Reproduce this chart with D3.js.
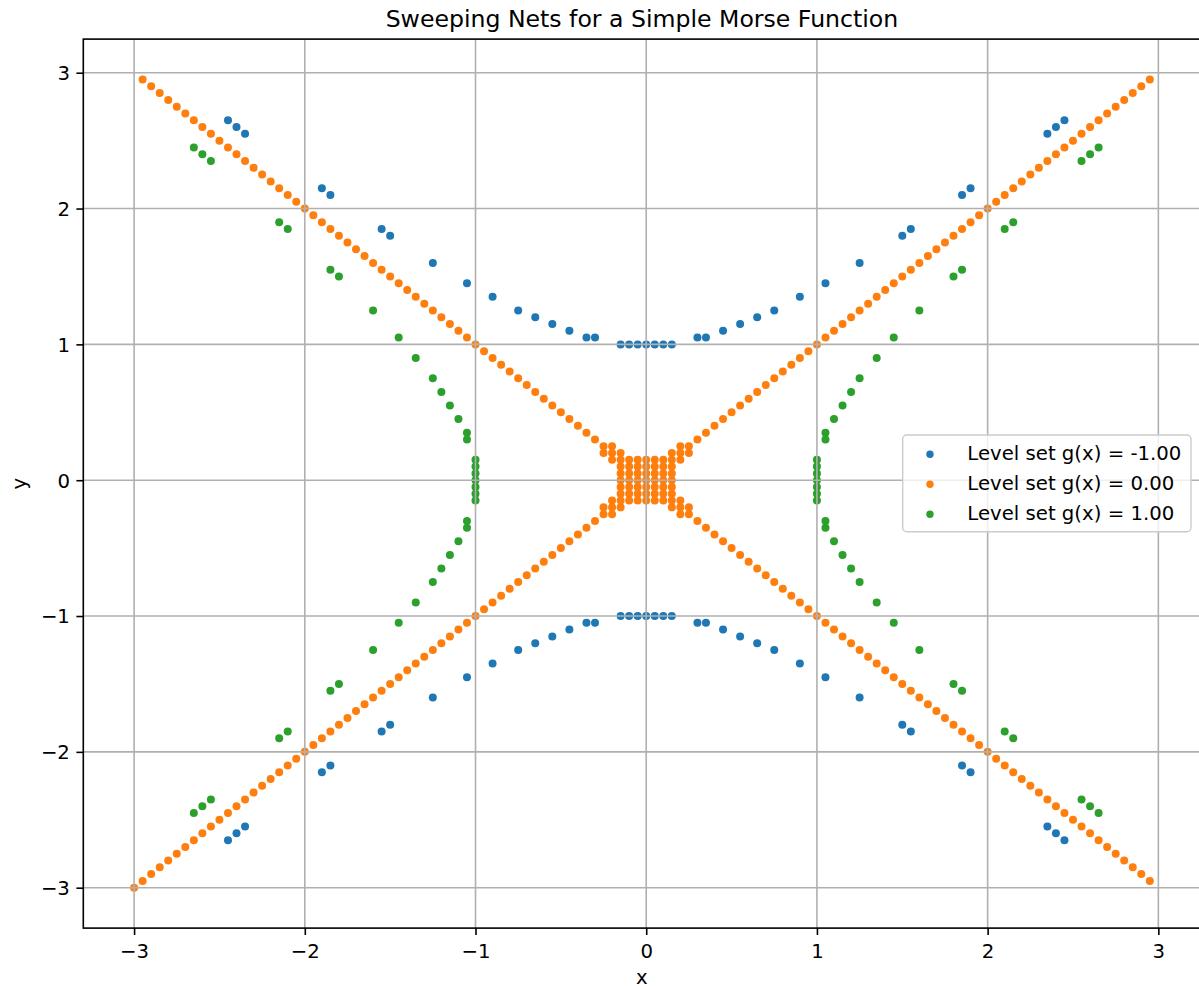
<!DOCTYPE html>
<html>
<head>
<meta charset="utf-8">
<script src="https://cdn.jsdelivr.net/npm/d3@7"></script>
<style>
  html, body { margin: 0; padding: 0; background: #ffffff; }
  svg { display: block; font-family: "DejaVu Sans", sans-serif; }
</style>
</head>
<body>
<svg id="chart" width="1199" height="989"></svg>
<script>
// ---------------- DATA ----------------
const chartTitle = "Sweeping Nets for a Simple Morse Function";
const xLabel = "x";
const yLabel = "y";
const xTicks = [-3, -2, -1, 0, 1, 2, 3];
const yTicks = [-3, -2, -1, 0, 1, 2, 3];
const seriesNames = ["Level set g(x) = -1.00", "Level set g(x) = 0.00", "Level set g(x) = 1.00"];
const seriesColors = ["#1f77b4", "#ff7f0e", "#2ca02c"];

// g(x) = -1 (blue)
const levelMinus1 = [
  [-2.45,2.65],[-2.4,2.6],[-2.35,2.55],[-1.9,2.15],[-1.85,2.1],[-1.55,1.85],[-1.5,1.8],[-1.25,1.6],
  [-1.05,1.45],[-0.9,1.35],[-0.75,1.25],[-0.65,1.2],[-0.55,1.15],[-0.45,1.1],[-0.35,1.05],[-0.3,1.05],
  [-0.15,1],[-0.1,1],[-0.05,1],[0,1],[0.05,1],[0.1,1],[0.15,1],[0.3,1.05],[0.35,1.05],[0.45,1.1],
  [0.55,1.15],[0.65,1.2],[0.75,1.25],[0.9,1.35],[1.05,1.45],[1.25,1.6],[1.5,1.8],[1.55,1.85],
  [1.85,2.1],[1.9,2.15],[2.35,2.55],[2.4,2.6],[2.45,2.65],
  [-2.45,-2.65],[-2.4,-2.6],[-2.35,-2.55],[-1.9,-2.15],[-1.85,-2.1],[-1.55,-1.85],[-1.5,-1.8],[-1.25,-1.6],
  [-1.05,-1.45],[-0.9,-1.35],[-0.75,-1.25],[-0.65,-1.2],[-0.55,-1.15],[-0.45,-1.1],[-0.35,-1.05],[-0.3,-1.05],
  [-0.15,-1],[-0.1,-1],[-0.05,-1],[0,-1],[0.05,-1],[0.1,-1],[0.15,-1],[0.3,-1.05],[0.35,-1.05],[0.45,-1.1],
  [0.55,-1.15],[0.65,-1.2],[0.75,-1.25],[0.9,-1.35],[1.05,-1.45],[1.25,-1.6],[1.5,-1.8],[1.55,-1.85],
  [1.85,-2.1],[1.9,-2.15],[2.35,-2.55],[2.4,-2.6],[2.45,-2.65]
];

// g(x) = 0 (orange)
const levelZero = [
  // y = x
  [-3,-3],[-2.95,-2.95],[-2.9,-2.9],[-2.85,-2.85],[-2.8,-2.8],[-2.75,-2.75],[-2.7,-2.7],[-2.65,-2.65],
  [-2.6,-2.6],[-2.55,-2.55],[-2.5,-2.5],[-2.45,-2.45],[-2.4,-2.4],[-2.35,-2.35],[-2.3,-2.3],[-2.25,-2.25],
  [-2.2,-2.2],[-2.15,-2.15],[-2.1,-2.1],[-2.05,-2.05],[-2,-2],[-1.95,-1.95],[-1.9,-1.9],[-1.85,-1.85],
  [-1.8,-1.8],[-1.75,-1.75],[-1.7,-1.7],[-1.65,-1.65],[-1.6,-1.6],[-1.55,-1.55],[-1.5,-1.5],[-1.45,-1.45],
  [-1.4,-1.4],[-1.35,-1.35],[-1.3,-1.3],[-1.25,-1.25],[-1.2,-1.2],[-1.15,-1.15],[-1.1,-1.1],[-1.05,-1.05],
  [-1,-1],[-0.95,-0.95],[-0.9,-0.9],[-0.85,-0.85],[-0.8,-0.8],[-0.75,-0.75],[-0.7,-0.7],[-0.65,-0.65],
  [-0.6,-0.6],[-0.55,-0.55],[-0.5,-0.5],[-0.45,-0.45],[-0.4,-0.4],[-0.35,-0.35],[-0.3,-0.3],[-0.25,-0.25],
  [-0.2,-0.2],[-0.15,-0.15],[-0.1,-0.1],[-0.05,-0.05],[0,0],[0.05,0.05],[0.1,0.1],[0.15,0.15],
  [0.2,0.2],[0.25,0.25],[0.3,0.3],[0.35,0.35],[0.4,0.4],[0.45,0.45],[0.5,0.5],[0.55,0.55],
  [0.6,0.6],[0.65,0.65],[0.7,0.7],[0.75,0.75],[0.8,0.8],[0.85,0.85],[0.9,0.9],[0.95,0.95],
  [1,1],[1.05,1.05],[1.1,1.1],[1.15,1.15],[1.2,1.2],[1.25,1.25],[1.3,1.3],[1.35,1.35],
  [1.4,1.4],[1.45,1.45],[1.5,1.5],[1.55,1.55],[1.6,1.6],[1.65,1.65],[1.7,1.7],[1.75,1.75],
  [1.8,1.8],[1.85,1.85],[1.9,1.9],[1.95,1.95],[2,2],[2.05,2.05],[2.1,2.1],[2.15,2.15],
  [2.2,2.2],[2.25,2.25],[2.3,2.3],[2.35,2.35],[2.4,2.4],[2.45,2.45],[2.5,2.5],[2.55,2.55],
  [2.6,2.6],[2.65,2.65],[2.7,2.7],[2.75,2.75],[2.8,2.8],[2.85,2.85],[2.9,2.9],[2.95,2.95],
  // y = -x
  [-2.95,2.95],[-2.9,2.9],[-2.85,2.85],[-2.8,2.8],[-2.75,2.75],[-2.7,2.7],[-2.65,2.65],
  [-2.6,2.6],[-2.55,2.55],[-2.5,2.5],[-2.45,2.45],[-2.4,2.4],[-2.35,2.35],[-2.3,2.3],[-2.25,2.25],
  [-2.2,2.2],[-2.15,2.15],[-2.1,2.1],[-2.05,2.05],[-2,2],[-1.95,1.95],[-1.9,1.9],[-1.85,1.85],
  [-1.8,1.8],[-1.75,1.75],[-1.7,1.7],[-1.65,1.65],[-1.6,1.6],[-1.55,1.55],[-1.5,1.5],[-1.45,1.45],
  [-1.4,1.4],[-1.35,1.35],[-1.3,1.3],[-1.25,1.25],[-1.2,1.2],[-1.15,1.15],[-1.1,1.1],[-1.05,1.05],
  [-1,1],[-0.95,0.95],[-0.9,0.9],[-0.85,0.85],[-0.8,0.8],[-0.75,0.75],[-0.7,0.7],[-0.65,0.65],
  [-0.6,0.6],[-0.55,0.55],[-0.5,0.5],[-0.45,0.45],[-0.4,0.4],[-0.35,0.35],[-0.3,0.3],[-0.25,0.25],
  [-0.2,0.2],[-0.15,0.15],[-0.1,0.1],[-0.05,0.05],[0.05,-0.05],[0.1,-0.1],[0.15,-0.15],
  [0.2,-0.2],[0.25,-0.25],[0.3,-0.3],[0.35,-0.35],[0.4,-0.4],[0.45,-0.45],[0.5,-0.5],[0.55,-0.55],
  [0.6,-0.6],[0.65,-0.65],[0.7,-0.7],[0.75,-0.75],[0.8,-0.8],[0.85,-0.85],[0.9,-0.9],[0.95,-0.95],
  [1,-1],[1.05,-1.05],[1.1,-1.1],[1.15,-1.15],[1.2,-1.2],[1.25,-1.25],[1.3,-1.3],[1.35,-1.35],
  [1.4,-1.4],[1.45,-1.45],[1.5,-1.5],[1.55,-1.55],[1.6,-1.6],[1.65,-1.65],[1.7,-1.7],[1.75,-1.75],
  [1.8,-1.8],[1.85,-1.85],[1.9,-1.9],[1.95,-1.95],[2,-2],[2.05,-2.05],[2.1,-2.1],[2.15,-2.15],
  [2.2,-2.2],[2.25,-2.25],[2.3,-2.3],[2.35,-2.35],[2.4,-2.4],[2.45,-2.45],[2.5,-2.5],[2.55,-2.55],
  [2.6,-2.6],[2.65,-2.65],[2.7,-2.7],[2.75,-2.75],[2.8,-2.8],[2.85,-2.85],[2.9,-2.9],[2.95,-2.95],
  // central block (off-diagonal)
  [-0.1,0.15],[-0.05,0.15],[0,0.15],[0.05,0.15],[0.1,0.15],
  [-0.15,0.1],[-0.05,0.1],[0,0.1],[0.05,0.1],[0.15,0.1],
  [-0.15,0.05],[-0.1,0.05],[0,0.05],[0.1,0.05],[0.15,0.05],
  [-0.15,0],[-0.1,0],[-0.05,0],[0.05,0],[0.1,0],[0.15,0],
  [-0.15,-0.05],[-0.1,-0.05],[0,-0.05],[0.1,-0.05],[0.15,-0.05],
  [-0.15,-0.1],[-0.05,-0.1],[0,-0.1],[0.05,-0.1],[0.15,-0.1],
  [-0.1,-0.15],[-0.05,-0.15],[0,-0.15],[0.05,-0.15],[0.1,-0.15],
  // near-diagonal points
  [0.15,0.2],[0.2,0.15],[0.2,0.25],[0.25,0.2],
  [-0.15,0.2],[-0.2,0.15],[-0.2,0.25],[-0.25,0.2],
  [0.15,-0.2],[0.2,-0.15],[0.2,-0.25],[0.25,-0.2],
  [-0.15,-0.2],[-0.2,-0.15],[-0.2,-0.25],[-0.25,-0.2]
];

// g(x) = 1 (green)
const levelPlus1 = [
  [2.65,-2.45],[2.6,-2.4],[2.55,-2.35],[2.15,-1.9],[2.1,-1.85],[1.85,-1.55],[1.8,-1.5],[1.6,-1.25],
  [1.45,-1.05],[1.35,-0.9],[1.25,-0.75],[1.2,-0.65],[1.15,-0.55],[1.1,-0.45],[1.05,-0.35],[1.05,-0.3],
  [1,-0.15],[1,-0.1],[1,-0.05],[1,0],[1,0.05],[1,0.1],[1,0.15],[1.05,0.3],[1.05,0.35],[1.1,0.45],
  [1.15,0.55],[1.2,0.65],[1.25,0.75],[1.35,0.9],[1.45,1.05],[1.6,1.25],[1.8,1.5],[1.85,1.55],
  [2.1,1.85],[2.15,1.9],[2.55,2.35],[2.6,2.4],[2.65,2.45],
  [-2.65,-2.45],[-2.6,-2.4],[-2.55,-2.35],[-2.15,-1.9],[-2.1,-1.85],[-1.85,-1.55],[-1.8,-1.5],[-1.6,-1.25],
  [-1.45,-1.05],[-1.35,-0.9],[-1.25,-0.75],[-1.2,-0.65],[-1.15,-0.55],[-1.1,-0.45],[-1.05,-0.35],[-1.05,-0.3],
  [-1,-0.15],[-1,-0.1],[-1,-0.05],[-1,0],[-1,0.05],[-1,0.1],[-1,0.15],[-1.05,0.3],[-1.05,0.35],[-1.1,0.45],
  [-1.15,0.55],[-1.2,0.65],[-1.25,0.75],[-1.35,0.9],[-1.45,1.05],[-1.6,1.25],[-1.8,1.5],[-1.85,1.55],
  [-2.1,1.85],[-2.15,1.9],[-2.55,2.35],[-2.6,2.4],[-2.65,2.45]
];

const allSeries = [levelMinus1, levelZero, levelPlus1];

// ---------------- LAYOUT ----------------
const svg = d3.select("#chart");
const W = 1199, H = 989;
const plot = { left: 83.3, right: 1200.6, top: 39.1, bottom: 928.1 };
const fontFamily = '"DejaVu Sans", sans-serif';
const tickFont = 19.7, titleFont = 23.6;

svg.append("rect").attr("x", 0).attr("y", 0).attr("width", W).attr("height", H).attr("fill", "#ffffff");

const x = d3.scaleLinear().domain([-3.2975, 3.2475]).range([plot.left, plot.right]);
const y = d3.scaleLinear().domain([-3.2975, 3.2475]).range([plot.bottom, plot.top]);

const clipId = "plotclip";
svg.append("clipPath").attr("id", clipId)
  .append("rect").attr("x", plot.left).attr("y", plot.top)
  .attr("width", plot.right - plot.left).attr("height", plot.bottom - plot.top);

// points
const pts = svg.append("g").attr("clip-path", `url(#${clipId})`);
allSeries.forEach((data, i) => {
  pts.append("g").selectAll("circle").data(data).join("circle")
    .attr("cx", d => x(d[0]))
    .attr("cy", d => y(d[1]))
    .attr("r", 4)
    .attr("fill", seriesColors[i]);
});

// grid (drawn above points, as in the reference)
const grid = svg.append("g").attr("clip-path", `url(#${clipId})`);
grid.selectAll("line.gx").data(xTicks).join("line")
  .attr("x1", d => x(d)).attr("x2", d => x(d))
  .attr("y1", plot.top).attr("y2", plot.bottom)
  .attr("stroke", "#b0b0b0").attr("stroke-width", 1.6);
grid.selectAll("line.gy").data(yTicks).join("line")
  .attr("y1", d => y(d)).attr("y2", d => y(d))
  .attr("x1", plot.left).attr("x2", plot.right)
  .attr("stroke", "#b0b0b0").attr("stroke-width", 1.6);

// axes
const fmt = d => (d < 0 ? "\u2212" + Math.abs(d) : String(d));
const xAxis = svg.append("g").attr("transform", `translate(0,${plot.bottom})`)
  .call(d3.axisBottom(x).tickValues(xTicks).tickFormat(fmt).tickSize(6.9).tickPadding(5.5).tickSizeOuter(0));
const yAxis = svg.append("g").attr("transform", `translate(${plot.left},0)`)
  .call(d3.axisLeft(y).tickValues(yTicks).tickFormat(fmt).tickSize(6.9).tickPadding(6.5).tickSizeOuter(0));
[xAxis, yAxis].forEach(a => {
  a.select(".domain").remove();
  a.selectAll(".tick line").attr("stroke", "#000").attr("stroke-width", 1.6);
  a.selectAll(".tick text").attr("fill", "#000").style("font-family", fontFamily).style("font-size", tickFont + "px");
});
xAxis.selectAll(".tick text").attr("dy", null).attr("y", null).attr("transform", null)
  .attr("y", 30.2);
yAxis.selectAll(".tick text").attr("dy", "0.35em");

// spines
svg.append("rect")
  .attr("x", plot.left).attr("y", plot.top)
  .attr("width", plot.right - plot.left).attr("height", plot.bottom - plot.top)
  .attr("fill", "none").attr("stroke", "#000").attr("stroke-width", 1.6);

// title & labels
svg.append("text").attr("x", (plot.left + plot.right) / 2).attr("y", 27.3)
  .attr("text-anchor", "middle").style("font-family", fontFamily).style("font-size", titleFont + "px")
  .attr("fill", "#000").text(chartTitle);
svg.append("text").attr("x", (plot.left + plot.right) / 2).attr("y", 984)
  .attr("text-anchor", "middle").style("font-family", fontFamily).style("font-size", tickFont + "px")
  .attr("fill", "#000").text(xLabel);
svg.append("text").attr("transform", `translate(26,${(plot.top + plot.bottom) / 2}) rotate(-90)`)
  .attr("text-anchor", "middle").style("font-family", fontFamily).style("font-size", tickFont + "px")
  .attr("fill", "#000").text(yLabel);

// legend
const leg = svg.append("g");
const legBox = { x: 902.7, y: 435, w: 288.3, h: 96.7 };
leg.append("rect").attr("x", legBox.x).attr("y", legBox.y).attr("width", legBox.w).attr("height", legBox.h)
  .attr("rx", 4).attr("ry", 4)
  .attr("fill", "#ffffff").attr("fill-opacity", 0.8)
  .attr("stroke", "#cccccc").attr("stroke-width", 1.4);
const rowY = [454.3, 484.3, 514.3];
seriesNames.forEach((name, i) => {
  leg.append("circle").attr("cx", 930).attr("cy", rowY[i]).attr("r", 3.7).attr("fill", seriesColors[i]);
  leg.append("text").attr("x", 967.3).attr("y", rowY[i] + 5.5)
    .style("font-family", fontFamily).style("font-size", tickFont + "px").attr("fill", "#000").text(name);
});
</script>
</body>
</html>
